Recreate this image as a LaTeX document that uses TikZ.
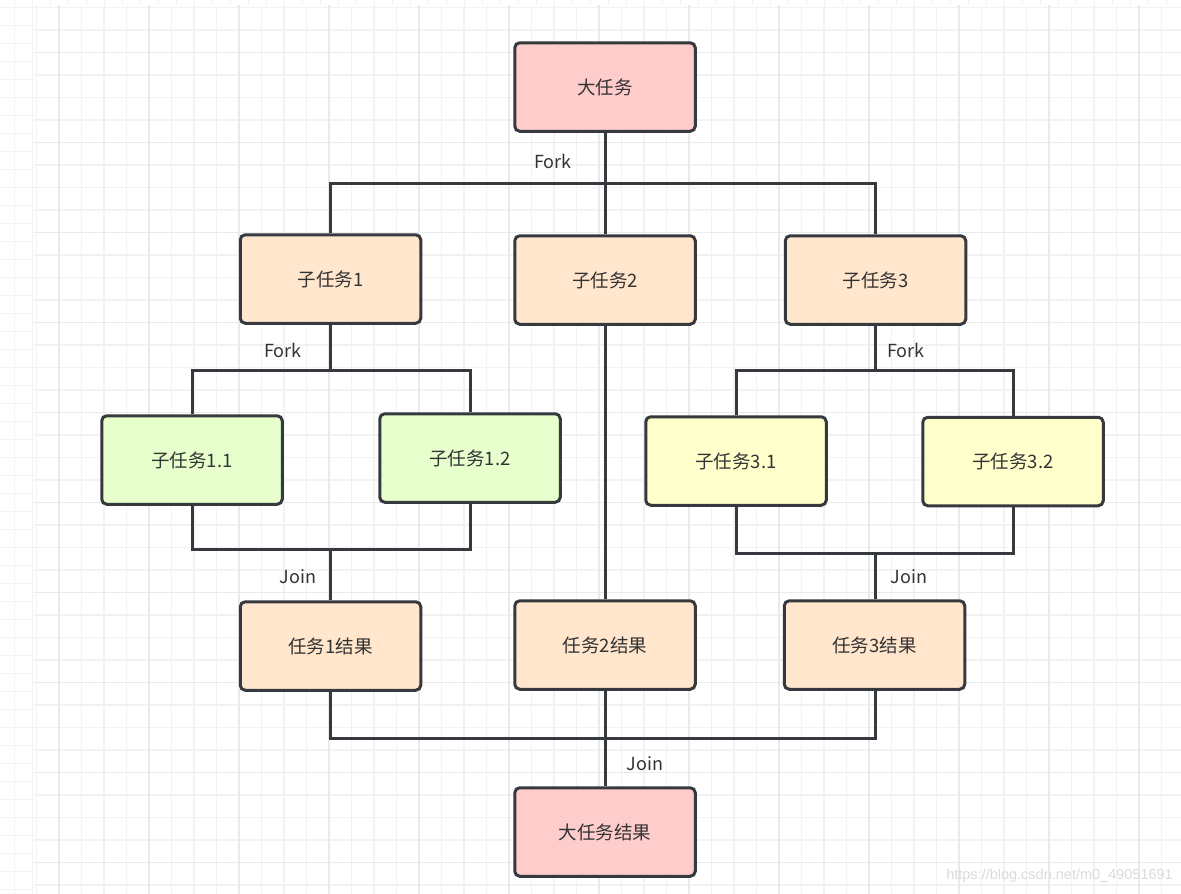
\documentclass[tikz,border=0pt]{standalone}
\usepackage{fontspec}
\setmainfont{Noto Sans CJK SC}
\newfontfamily\wmfont{Liberation Sans}
\definecolor{linec}{HTML}{36393D}
\definecolor{textc}{HTML}{333333}
\definecolor{redf}{HTML}{FFCCCC}
\definecolor{orgf}{HTML}{FFE6CC}
\definecolor{grnf}{HTML}{E6FFCC}
\definecolor{yelf}{HTML}{FFFFCC}
\definecolor{gminor}{HTML}{F2F2F2}
\definecolor{gmajor}{HTML}{EAEAEA}
\definecolor{gback}{HTML}{F3F3F3}
\tikzset{
  box/.style={draw=linec, line width=3pt, rounded corners=5pt,
    minimum width=180.5pt, minimum height=88.5pt, inner sep=0pt,
    font=\fontsize{18.5}{20}\selectfont, text=textc},
  bigbox/.style={box, fill=redf},
  subbox/.style={box, fill=orgf},
  greenbox/.style={box, fill=grnf},
  yellowbox/.style={box, fill=yelf},
  conn/.style={draw=linec, line width=3pt},
  lbl/.style={font=\fontsize{18}{20}\selectfont, text=textc, inner sep=0pt},
  gridminor/.style={draw=gminor, line width=1.2pt},
  gridmajor/.style={draw=gmajor, line width=1.6pt},
  gridback/.style={draw=gback, line width=1pt},
}
\begin{document}
\begin{tikzpicture}[x=1pt,y=-1pt]
\useasboundingbox (0,0) rectangle (1181,894);
% background
\fill[white] (0,0) rectangle (1181,894);
\foreach \i in {0,...,65} {\draw[gridback] ({14+18*\i},0) -- ({14+18*\i},894);}
\foreach \j in {0,...,49} {\draw[gridback] (0,{7+18*\j}) -- (1181,{7+18*\j});}
\fill[white] (34,5) rectangle (1181,894);
\foreach \i in {0,...,50} {\draw[gridminor] ({36.5+22.5*\i},5) -- ({36.5+22.5*\i},894);}
\foreach \j in {0,...,39} {\draw[gridminor] (34,{7.5+22.5*\j}) -- (1181,{7.5+22.5*\j});}
\foreach \i in {0,...,12} {\draw[gridmajor] ({59+90*\i},5) -- ({59+90*\i},894);}
\foreach \j in {0,...,9} {\draw[gridmajor] (34,{52.5+90*\j}) -- (1181,{52.5+90*\j});}
\node[font=\wmfont\fontsize{14.5}{16}\selectfont, text=black!14, anchor=east, inner sep=0pt] (wm) at (1173,876) {https://blog.csdn.net/m0\_49051691};

% coordinates for junctions
\coordinate (f0) at (605,183);
\coordinate (f1) at (330,370);
\coordinate (f3) at (875,370);
\coordinate (j1) at (330,549);
\coordinate (j3) at (875,553);
\coordinate (j4) at (605,738);

% boxes
\node[bigbox] (big) at (605,87) {大任务};
\node[subbox] (s1) at (330.5,279) {子任务1};
\node[subbox] (s2) at (605,280) {子任务2};
\node[subbox] (s3) at (875.5,280) {子任务3};
\node[greenbox] (s11) at (192,460) {子任务1.1};
\node[greenbox] (s12) at (470,458) {子任务1.2};
\node[yellowbox] (s31) at (736,461) {子任务3.1};
\node[yellowbox] (s32) at (1013,461.5) {子任务3.2};
\node[subbox] (r1) at (330.5,646) {任务1结果};
\node[subbox] (r2) at (605,645) {任务2结果};
\node[subbox] (r3) at (874.5,645) {任务3结果};
\node[bigbox] (final) at (605,832) {大任务结果};

% connectors
\draw[conn] (big.south) -- (f0);
\draw[conn] (s1.north -| f1) |- (f0) -| (s3.north -| f3);
\draw[conn] (f0) -- (s2.north);
\draw[conn] (s1.south -| f1) -- (f1);
\draw[conn] (s11.north) |- (f1) -| (s12.north);
\draw[conn] (s11.south) |- (j1) -| (s12.south);
\draw[conn] (j1) -- (r1.north -| j1);
\draw[conn] (s2.south) -- (r2.north);
\draw[conn] (s3.south -| f3) -- (f3);
\draw[conn] (s31.north) |- (f3) -| (s32.north);
\draw[conn] (s31.south) |- (j3) -| (s32.south);
\draw[conn] (j3) -- (r3.north -| j3);
\draw[conn] (r1.south -| j1) |- (j4) -| (r3.south -| j3);
\draw[conn] (r2.south) -- (final.north);

% labels
\node[lbl] (l0) at (553,161) {Fork};
\node[lbl] (l1) at (283,350) {Fork};
\node[lbl] (l3) at (906,350) {Fork};
\node[lbl] (l4) at (298,577) {Join};
\node[lbl] (l5) at (909,577) {Join};
\node[lbl] (l6) at (645,764) {Join};
\end{tikzpicture}
\end{document}
